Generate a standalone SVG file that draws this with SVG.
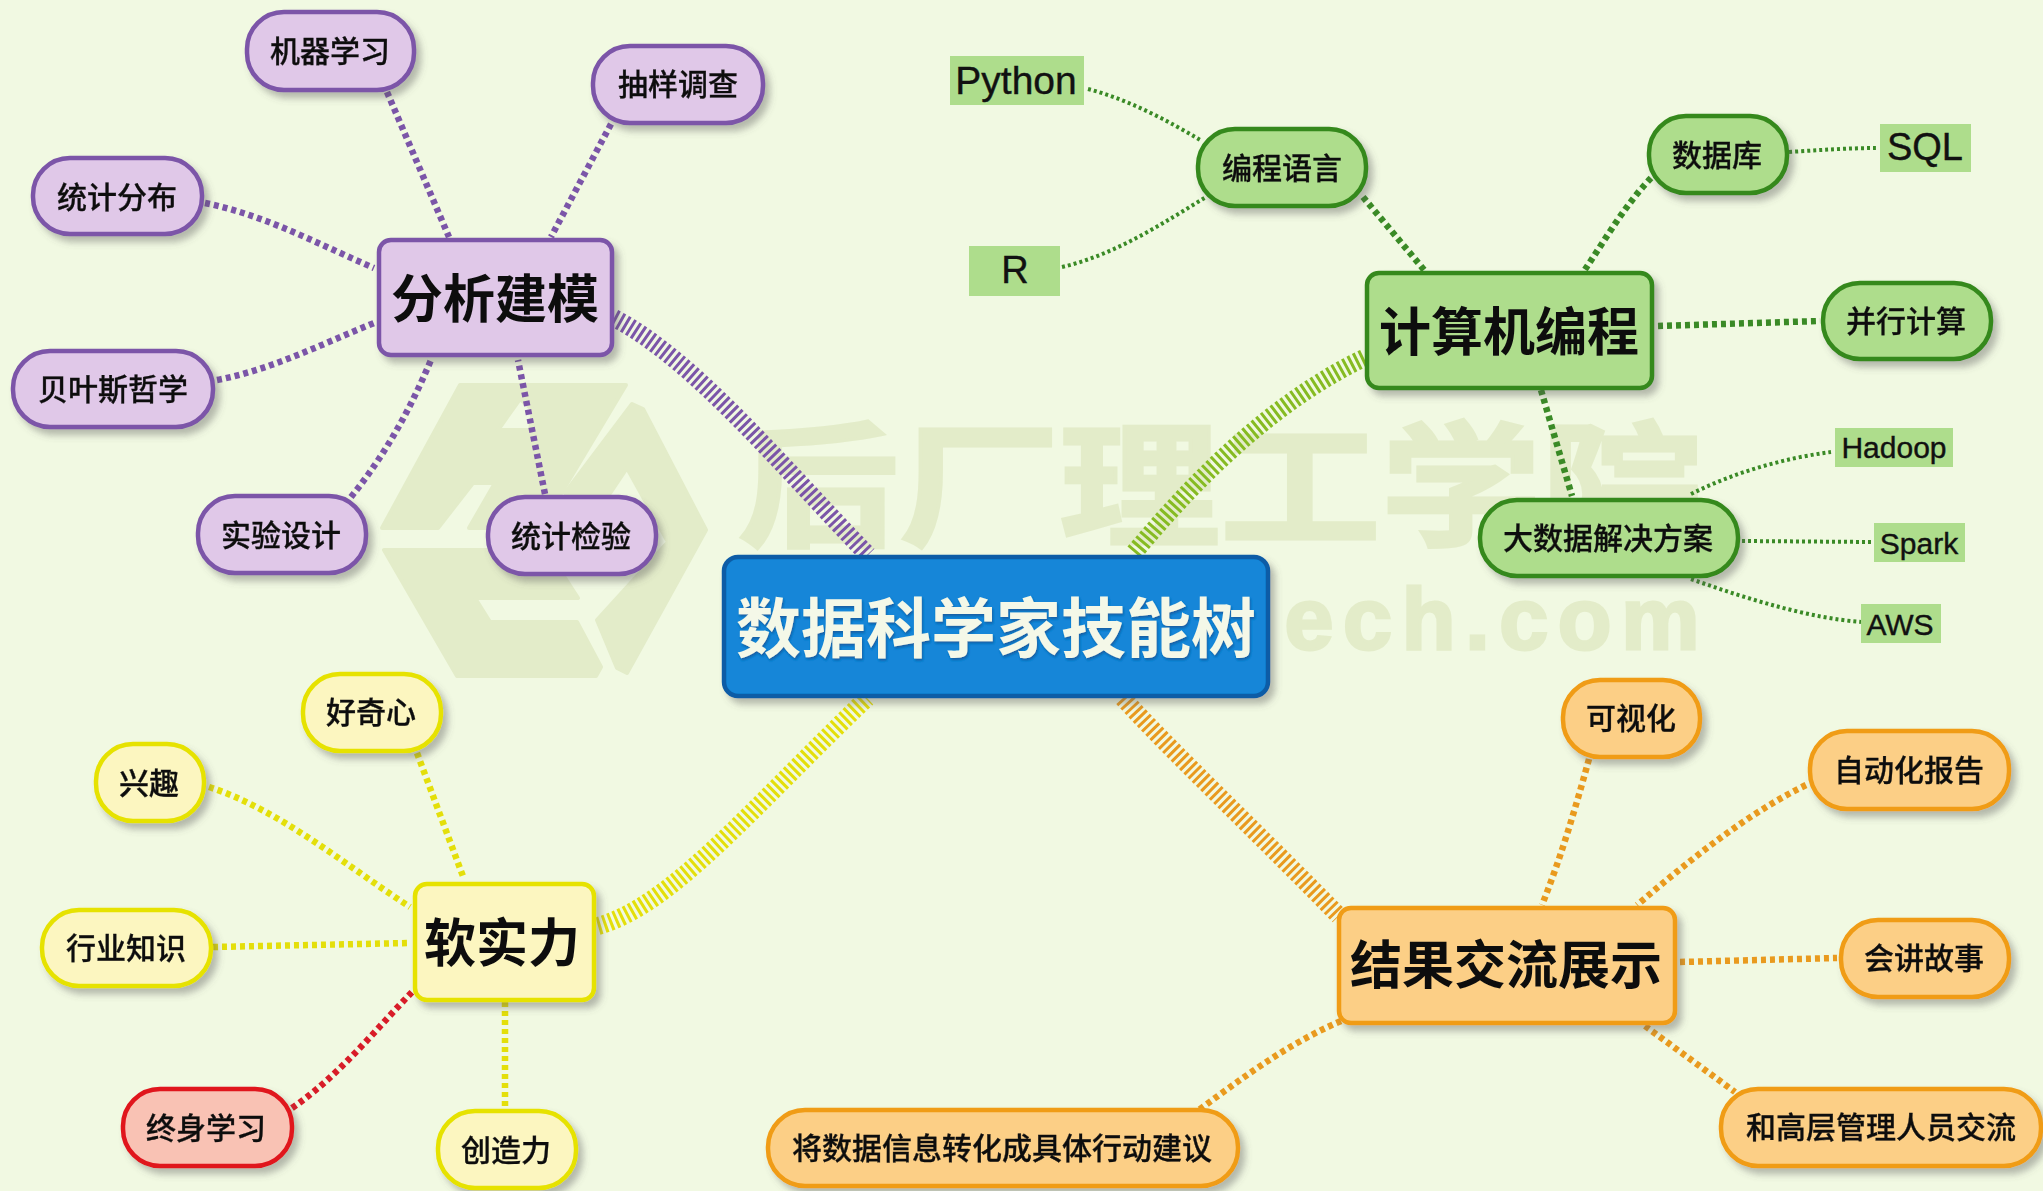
<svg xmlns="http://www.w3.org/2000/svg" width="2043" height="1191" viewBox="0 0 2043 1191">
<defs>
<filter id="sh" x="-20%" y="-30%" width="140%" height="160%"><feDropShadow dx="5" dy="6" stdDeviation="3.5" flood-color="#5a5a5a" flood-opacity="0.4"/></filter>
<filter id="ts" x="-5%" y="-10%" width="110%" height="120%"><feDropShadow dx="1" dy="2" stdDeviation="1" flood-color="#0a4f8f" flood-opacity="0.7"/></filter>
</defs>
<style>
text{font-family:"Noto Sans CJK SC","Noto Sans",sans-serif;text-anchor:middle;dominant-baseline:central;fill:#111}
.s{font-size:30px;font-weight:500;stroke:#111;stroke-width:.3;transform:translateY(-2.5px)}
.m{font-size:52px;font-weight:700;transform:translateY(-2.5px)}
.c{font-size:65px;font-weight:700;fill:#f4f8e8;transform:translateY(-2.5px)}
.l{font-family:"Liberation Sans",Arial,sans-serif;stroke:#111;stroke-width:.4}
.wm{fill:#e3ecc9;stroke:#e3ecc9;stroke-width:4;stroke-linejoin:round;fill-rule:evenodd}
.wt{fill:#e3ecc9;stroke:#e3ecc9;stroke-width:3;font-weight:700}
.n{filter:url(#sh)}
.n rect{stroke-width:4.5}
.pu rect{fill:#e0c8e8;stroke:#7b55a8}
.gr rect{fill:#aedd8c;stroke:#35891c}
.ye rect{fill:#fcf6c0;stroke:#e6e200}
.re rect{fill:#f9c2b4;stroke:#e0141e}
.or rect{fill:#fccf86;stroke:#f09c14}
.bl rect{fill:#1286d8;stroke:#0a5ca6}
.tag{fill:#aedd8c}
.a{stroke-width:18;stroke-dasharray:3 3;fill:none}
.b{stroke-width:6.5;stroke-dasharray:5 4;fill:none}
.d{stroke-width:4;stroke-dasharray:3 3;fill:none}
.cpu{stroke:#7b55a8}.cgm{stroke:#86bb22}.cgr{stroke:#3a8a26}.cye{stroke:#e4df0a}.cre{stroke:#d81c28}.cor{stroke:#e99a1e}
</style>
<rect width="2043" height="1191" fill="#f1f9e2"/>
<g id="watermark">
<path class="wm" d="M460,385L626,385L547,517L537,528L469,528L495,483L473,483L438,528L382,528ZM520,399L498,430L530,430L533,410Z"/>
<path class="wm" d="M632,404L643,409L706,530L627,673L617,668L597,620L668,542L627,468L592,520L565,493Z"/>
<path class="wm" d="M384,550L547,550L578,598L475,598L490,622L577,622L601,667L596,676L457,676Z"/>
<text class="wt" transform="translate(1220,477) scale(1.19,1)" font-size="135">后厂理工学院</text>
<text class="wt" x="1492" y="618" font-size="88" textLength="415" lengthAdjust="spacing" style="font-family:'Liberation Sans',sans-serif">ech.com</text>
</g>
<g id="connectors">
<path class="a cpu" d="M614,318C695,360 785,470 868,555"/>
<path class="a cgm" d="M1364,358C1255,410 1170,510 1133,554"/>
<path class="a cye" d="M598,926C672,905 750,810 867,698"/>
<path class="a cor" d="M1123,698C1165,745 1265,840 1339,916"/>
<path class="b cpu" d="M387,92L449,237"/>
<path class="b cpu" d="M611,124L551,237"/>
<path class="b cpu" d="M205,203C265,215 320,245 374,268"/>
<path class="b cpu" d="M217,380C270,370 320,345 374,323"/>
<path class="b cpu" d="M351,497C385,455 410,410 431,360"/>
<path class="b cpu" d="M545,494L518,360"/>
<path class="b cgr" d="M1363,197L1425,271"/>
<path class="b cgr" d="M1651,178C1625,205 1605,240 1584,271"/>
<path class="b cgr" d="M1658,326L1820,321"/>
<path class="b cgr" d="M1541,390L1572,496"/>
<path class="d cgr" d="M1088,89C1130,100 1170,122 1202,141"/>
<path class="d cgr" d="M1062,267C1115,255 1165,222 1206,197"/>
<path class="d cgr" d="M1789,152C1820,150 1850,148 1877,148"/>
<path class="d cgr" d="M1691,494C1735,472 1785,458 1831,452"/>
<path class="d cgr" d="M1742,541L1871,542"/>
<path class="d cgr" d="M1691,579C1750,600 1810,618 1861,622"/>
<path class="b cye" d="M417,753L464,879"/>
<path class="b cye" d="M209,787C280,810 345,865 410,907"/>
<path class="b cye" d="M213,947L410,943"/>
<path class="b cre" d="M292,1108C340,1075 375,1030 413,991"/>
<path class="b cye" d="M505,1002L505,1107"/>
<path class="b cor" d="M1589,759C1575,810 1560,860 1542,905"/>
<path class="b cor" d="M1806,785C1745,815 1690,860 1637,905"/>
<path class="b cor" d="M1680,962L1837,958"/>
<path class="b cor" d="M1645,1026L1735,1092"/>
<path class="b cor" d="M1341,1021C1285,1045 1240,1080 1196,1112"/>
</g>
<g id="root" class="n bl"><rect x="724" y="557" width="544" height="139" rx="14"/><text class="c" x="996" y="626" filter="url(#ts)">数据科学家技能树</text></g>
<g id="n-analysis" class="n pu"><rect x="379" y="240" width="233" height="115" rx="12"/><text class="m" x="495" y="298">分析建模</text></g>
<g id="n-ml" class="n pu"><rect x="247" y="12" width="167" height="78" rx="37"/><text class="s" x="330" y="51">机器学习</text></g>
<g id="n-sampling" class="n pu"><rect x="593" y="46" width="170" height="77" rx="37"/><text class="s" x="678" y="84">抽样调查</text></g>
<g id="n-dist" class="n pu"><rect x="33" y="158" width="169" height="76" rx="37"/><text class="s" x="117" y="197">统计分布</text></g>
<g id="n-bayes" class="n pu"><rect x="13" y="351" width="200" height="76" rx="37"/><text class="s" x="113" y="389">贝叶斯哲学</text></g>
<g id="n-exp" class="n pu"><rect x="198" y="496" width="168" height="77" rx="37"/><text class="s" x="281" y="535">实验设计</text></g>
<g id="n-test" class="n pu"><rect x="488" y="497" width="168" height="77" rx="37"/><text class="s" x="571" y="536">统计检验</text></g>
<g id="n-prog" class="n gr"><rect x="1367" y="273" width="285" height="115" rx="12"/><text class="m" x="1509" y="331">计算机编程</text></g>
<g id="n-lang" class="n gr"><rect x="1198" y="129" width="168" height="77" rx="37"/><text class="s" x="1282" y="168">编程语言</text></g>
<g id="n-db" class="n gr"><rect x="1649" y="116" width="138" height="77" rx="37"/><text class="s" x="1717" y="155">数据库</text></g>
<g id="n-par" class="n gr"><rect x="1823" y="283" width="168" height="76" rx="37"/><text class="s" x="1906" y="321">并行计算</text></g>
<g id="n-big" class="n gr"><rect x="1480" y="500" width="258" height="76" rx="37"/><text class="s" x="1608" y="538">大数据解决方案</text></g>
<g id="n-python"><rect class="tag" x="950" y="56" width="134" height="49"/><text class="l" x="1016" y="80" font-size="39">Python</text></g>
<g id="n-r"><rect class="tag" x="969" y="246" width="91" height="50"/><text class="l" x="1015" y="270" font-size="38">R</text></g>
<g id="n-sql"><rect class="tag" x="1880" y="124" width="91" height="48"/><text class="l" x="1925" y="147" font-size="38">SQL</text></g>
<g id="n-hadoop"><rect class="tag" x="1835" y="428" width="118" height="39"/><text class="l" x="1894" y="447" font-size="30">Hadoop</text></g>
<g id="n-spark"><rect class="tag" x="1874" y="523" width="91" height="39"/><text class="l" x="1919" y="543" font-size="30">Spark</text></g>
<g id="n-aws"><rect class="tag" x="1861" y="604" width="80" height="39"/><text class="l" x="1900" y="624" font-size="30">AWS</text></g>
<g id="n-soft" class="n ye"><rect x="415" y="884" width="179" height="116" rx="12"/><text class="m" x="502" y="942">软实力</text></g>
<g id="n-cur" class="n ye"><rect x="303" y="674" width="138" height="77" rx="37"/><text class="s" x="371" y="712">好奇心</text></g>
<g id="n-int" class="n ye"><rect x="96" y="744" width="108" height="77" rx="37"/><text class="s" x="149" y="783">兴趣</text></g>
<g id="n-ind" class="n ye"><rect x="42" y="910" width="169" height="76" rx="37"/><text class="s" x="126" y="948">行业知识</text></g>
<g id="n-life" class="n re"><rect x="123" y="1089" width="169" height="77" rx="37"/><text class="s" x="206" y="1128">终身学习</text></g>
<g id="n-cre" class="n ye"><rect x="438" y="1111" width="138" height="77" rx="37"/><text class="s" x="506" y="1150">创造力</text></g>
<g id="n-comm" class="n or"><rect x="1339" y="908" width="336" height="115" rx="12"/><text class="m" x="1506" y="964">结果交流展示</text></g>
<g id="n-vis" class="n or"><rect x="1563" y="680" width="137" height="77" rx="37"/><text class="s" x="1631" y="718">可视化</text></g>
<g id="n-auto" class="n or"><rect x="1810" y="731" width="199" height="78" rx="37"/><text class="s" x="1909" y="770">自动化报告</text></g>
<g id="n-story" class="n or"><rect x="1841" y="920" width="168" height="77" rx="37"/><text class="s" x="1924" y="958">会讲故事</text></g>
<g id="n-exec" class="n or"><rect x="1721" y="1089" width="320" height="77" rx="37"/><text class="s" x="1881" y="1127">和高层管理人员交流</text></g>
<g id="n-action" class="n or"><rect x="768" y="1110" width="470" height="76" rx="37"/><text class="s" x="1002" y="1148">将数据信息转化成具体行动建议</text></g>
</svg>
